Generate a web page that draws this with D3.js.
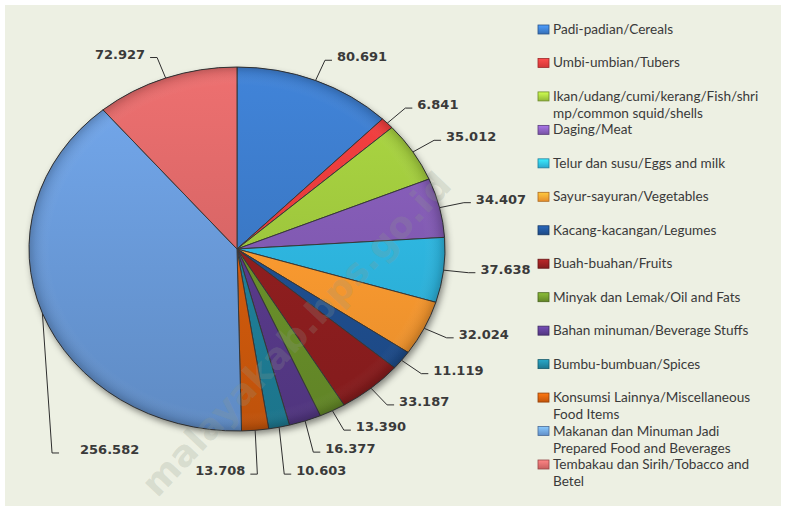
<!DOCTYPE html>
<html>
<head>
<meta charset="utf-8">
<script src="https://cdn.jsdelivr.net/npm/d3@7"></script>
<style>
  html, body { margin: 0; padding: 0; background: #fff; }
  svg { display: block; }
</style>
</head>
<body>
<div id="chart"></div>
<script>
// categories, in the order they go round the pie (clockwise from 12 o'clock)
var categories = [
  "Padi-padian/Cereals",
  "Umbi-umbian/Tubers",
  "Ikan/udang/cumi/kerang/Fish/shri\nmp/common squid/shells",
  "Daging/Meat",
  "Telur dan susu/Eggs and milk",
  "Sayur-sayuran/Vegetables",
  "Kacang-kacangan/Legumes",
  "Buah-buahan/Fruits",
  "Minyak dan Lemak/Oil and Fats",
  "Bahan minuman/Beverage Stuffs",
  "Bumbu-bumbuan/Spices",
  "Konsumsi Lainnya/Miscellaneous\nFood Items",
  "Makanan dan Minuman Jadi\nPrepared Food and Beverages",
  "Tembakau dan Sirih/Tobacco and\nBetel"
];

var values = [80.691, 6.841, 35.012, 34.407, 37.638, 32.024, 11.119,
              33.187, 13.390, 16.377, 10.603, 13.708, 256.582, 72.927];

var colors = ["#3a77c3", "#e03a3a", "#9cc43c", "#8059b0", "#2db3dc", "#f7982f", "#1f4e8e",
              "#8e1e1f", "#698f2a", "#583a8a", "#1f7f98", "#d05a0c", "#6898d6", "#d66565"];

// the big slice's label was dragged down below the pie in the original
var labelMoves = { 12: { dx: 33, dy: 132, side: 1, gap: 28 } };

var W = 785, H = 506;
var cx = 237, cy = 249, rx = 208, ry = 182;
var fmt = d3.format(".3f");

var svg = d3.select("#chart").append("svg")
  .attr("width", W)
  .attr("height", H);

var defs = svg.append("defs");

// plot background
svg.append("rect")
  .attr("x", 5).attr("y", 5)
  .attr("width", 776).attr("height", H - 5)
  .attr("fill", "#edf0e3");

// slice gradients, lighter on top
colors.forEach(function(c, i) {
  var base = d3.color(c);
  var gr = defs.append("linearGradient")
    .attr("id", "sg" + i)
    .attr("gradientUnits", "userSpaceOnUse")
    .attr("x1", 0).attr("y1", -rx).attr("x2", 0).attr("y2", rx);
  gr.append("stop").attr("offset", "0%").attr("stop-color", base.brighter(0.3));
  gr.append("stop").attr("offset", "55%").attr("stop-color", base);
  gr.append("stop").attr("offset", "100%").attr("stop-color", base.darker(0.25));

  var lg = defs.append("linearGradient")
    .attr("id", "lg" + i)
    .attr("x1", 0).attr("y1", 0).attr("x2", 0).attr("y2", 1);
  lg.append("stop").attr("offset", "0%").attr("stop-color", base.brighter(0.8));
  lg.append("stop").attr("offset", "100%").attr("stop-color", base.darker(0.2));
});

var shade = defs.append("radialGradient").attr("id", "shade")
  .attr("gradientUnits", "userSpaceOnUse")
  .attr("cx", 0).attr("cy", 0).attr("r", rx);
shade.append("stop").attr("offset", "0%").attr("stop-color", "#fff").attr("stop-opacity", 0.0);
shade.append("stop").attr("offset", "90%").attr("stop-color", "#fff").attr("stop-opacity", 0.0);
shade.append("stop").attr("offset", "97%").attr("stop-color", "#000").attr("stop-opacity", 0.08);
shade.append("stop").attr("offset", "100%").attr("stop-color", "#000").attr("stop-opacity", 0.2);

var shadow = defs.append("filter").attr("id", "shadow")
  .attr("x", "-10%").attr("y", "-10%").attr("width", "120%").attr("height", "125%");
shadow.append("feDropShadow")
  .attr("dx", 2).attr("dy", 4).attr("stdDeviation", 3.5)
  .attr("flood-color", "#000").attr("flood-opacity", 0.45);

var pie = d3.pie().sort(null).value(function(d) { return d; });
var arcs = pie(values);
var arc = d3.arc().innerRadius(0).outerRadius(rx);

var pg = svg.append("g")
  .attr("transform", "translate(" + cx + "," + cy + ") scale(1," + (ry / rx) + ")");

pg.append("ellipse")
  .attr("rx", rx).attr("ry", rx)
  .attr("fill", "#5b6b80")
  .attr("filter", "url(#shadow)");

pg.selectAll("path.slice")
  .data(arcs)
  .enter().append("path")
  .attr("class", "slice")
  .attr("d", arc)
  .attr("fill", function(d, i) { return "url(#sg" + i + ")"; })
  .attr("stroke", "#383838")
  .attr("stroke-width", 1)
  .attr("stroke-linejoin", "round")
  .attr("vector-effect", "non-scaling-stroke");

pg.append("circle")
  .attr("r", rx)
  .attr("fill", "url(#shade)")
  .attr("pointer-events", "none");

// data labels with leader lines
function edgePoint(a, f) {
  return [cx + rx * f * Math.sin(a), cy - ry * f * Math.cos(a)];
}

var labels = arcs.map(function(d, i) {
  var a = (d.startAngle + d.endAngle) / 2;
  var e = edgePoint(a, 1);
  var k = edgePoint(a, 1.12);
  var side = Math.sin(a) > 0.12 ? 1 : -1;
  var gap = 12;
  if (labelMoves[i]) {
    k = [k[0] + labelMoves[i].dx, k[1] + labelMoves[i].dy];
    side = labelMoves[i].side;
    gap = labelMoves[i].gap;
  }
  return { i: i, a: a, e: e, k: k, side: side, gap: gap, text: fmt(d.data) };
});

// push lower labels apart (right side stacks downward)
var lowRight = labels.filter(function(l) { return l.side > 0 && l.a > Math.PI / 2 && !labelMoves[l.i]; })
  .sort(function(p, q) { return p.a - q.a; });
for (var j = 1; j < lowRight.length; j++) {
  if (lowRight[j].k[1] < lowRight[j - 1].k[1] + 22) lowRight[j].k[1] = lowRight[j - 1].k[1] + 22;
}
var lastRight = lowRight[lowRight.length - 1];
labels.forEach(function(l) {
  if (l.side < 0 && l.a > Math.PI / 2 && l.a < Math.PI && !labelMoves[l.i]) {
    l.k[1] = Math.max(l.k[1], lastRight.k[1]);
  }
});

var lg = svg.append("g").attr("class", "labels");

lg.selectAll("path")
  .data(labels)
  .enter().append("path")
  .attr("d", function(l) {
    return "M" + l.e[0] + "," + l.e[1] + "L" + l.k[0] + "," + l.k[1] + "L" + (l.k[0] + 7 * l.side) + "," + l.k[1];
  })
  .attr("fill", "none")
  .attr("stroke", "#2e2e2e")
  .attr("stroke-width", 1);

lg.selectAll("text")
  .data(labels)
  .enter().append("text")
  .attr("x", function(l) { return l.k[0] + l.gap * l.side; })
  .attr("y", function(l) { return l.k[1] + 1; })
  .attr("text-anchor", function(l) { return l.side > 0 ? "start" : "end"; })
  .attr("font-family", "'DejaVu Sans', Verdana, sans-serif")
  .attr("font-weight", "bold")
  .attr("font-size", "13px")
  .attr("fill", "#3a3a3a")
  .text(function(l) { return l.text; });

// legend
var ly = d3.scalePoint().domain(d3.range(categories.length)).range([34, 469]);

var leg = svg.append("g").attr("class", "legend");
var item = leg.selectAll("g")
  .data(categories)
  .enter().append("g")
  .attr("transform", function(d, i) { return "translate(538," + ly(i) + ")"; });

item.append("rect")
  .attr("x", 0).attr("y", -9)
  .attr("width", 11).attr("height", 9)
  .attr("fill", function(d, i) { return "url(#lg" + i + ")"; })
  .attr("stroke", function(d, i) { return d3.color(colors[i]).darker(1); })
  .attr("stroke-width", 0.8);

item.append("text")
  .attr("x", 15)
  .attr("y", 0)
  .attr("font-family", "Lato, 'Open Sans', sans-serif")
  .attr("font-size", "13.6px")
  .attr("fill", "#3a3a3a")
  .each(function(d) {
    var t = d3.select(this);
    d.split("\n").forEach(function(line, n) {
      t.append("tspan").attr("x", 15).attr("dy", n ? 17 : 0).text(line);
    });
  });

// watermark
svg.append("text")
  .attr("transform", "translate(298,336) rotate(-46.5)")
  .attr("text-anchor", "middle")
  .attr("dominant-baseline", "middle")
  .attr("font-family", "'DejaVu Sans', sans-serif")
  .attr("font-weight", "bold")
  .attr("font-size", "36px")
  .attr("textLength", 430)
  .attr("lengthAdjust", "spacingAndGlyphs")
  .attr("fill", "#8f9a8c")
  .attr("fill-opacity", 0.24)
  .text("malayakab.bps.go.id");
</script>
</body>
</html>
